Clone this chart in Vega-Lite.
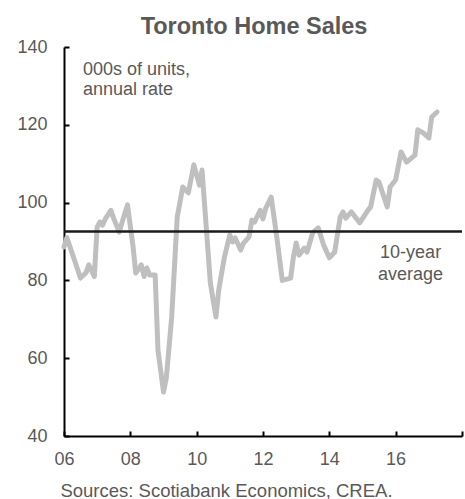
{
  "$schema": "https://vega.github.io/schema/vega-lite/v6.json",
  "width": 398,
  "height": 389,
  "autosize": {"type": "none"},
  "padding": {"left": 64, "top": 47, "right": 3, "bottom": 63},
  "background": "white",
  "config": {"font": "Liberation Sans", "view": {"stroke": null}},
  "title": {"text": "Toronto Home Sales", "fontSize": 23.5, "fontWeight": "bold", "color": "#595959", "anchor": "middle", "dx": -9, "dy": 33, "baseline": "alphabetic", "offset": 14},
  "datasets": {
    "sales": [
      {"date": "2006-01-01", "value": 88.6},
      {"date": "2006-02-01", "value": 91},
      {"date": "2006-04-01", "value": 87},
      {"date": "2006-07-01", "value": 80.6},
      {"date": "2006-09-01", "value": 82},
      {"date": "2006-10-01", "value": 84},
      {"date": "2006-12-01", "value": 81},
      {"date": "2007-01-01", "value": 93.7},
      {"date": "2007-02-01", "value": 95},
      {"date": "2007-03-01", "value": 94.2},
      {"date": "2007-04-01", "value": 95.8},
      {"date": "2007-06-01", "value": 98},
      {"date": "2007-07-01", "value": 96},
      {"date": "2007-09-01", "value": 92.4},
      {"date": "2007-10-01", "value": 94.8},
      {"date": "2007-12-01", "value": 99.4},
      {"date": "2008-02-01", "value": 88.6},
      {"date": "2008-03-01", "value": 81.9},
      {"date": "2008-05-01", "value": 84},
      {"date": "2008-06-01", "value": 81},
      {"date": "2008-07-01", "value": 83.2},
      {"date": "2008-08-01", "value": 81.4},
      {"date": "2008-10-01", "value": 81.4},
      {"date": "2008-11-01", "value": 62},
      {"date": "2009-01-01", "value": 51.3},
      {"date": "2009-02-01", "value": 55},
      {"date": "2009-04-01", "value": 70.6},
      {"date": "2009-06-01", "value": 96.3},
      {"date": "2009-08-01", "value": 104},
      {"date": "2009-10-01", "value": 102.5},
      {"date": "2009-12-01", "value": 109.7},
      {"date": "2010-02-01", "value": 104.5},
      {"date": "2010-03-01", "value": 108.4},
      {"date": "2010-06-01", "value": 79.3},
      {"date": "2010-08-01", "value": 70.6},
      {"date": "2010-09-01", "value": 77.5},
      {"date": "2010-11-01", "value": 85.8},
      {"date": "2011-01-01", "value": 91.7},
      {"date": "2011-02-01", "value": 89.9},
      {"date": "2011-03-01", "value": 90.9},
      {"date": "2011-05-01", "value": 87.8},
      {"date": "2011-06-01", "value": 89.6},
      {"date": "2011-08-01", "value": 91.2},
      {"date": "2011-09-01", "value": 95.5},
      {"date": "2011-10-01", "value": 95},
      {"date": "2011-12-01", "value": 98},
      {"date": "2012-01-01", "value": 95.8},
      {"date": "2012-02-01", "value": 98.6},
      {"date": "2012-04-01", "value": 101.4},
      {"date": "2012-06-01", "value": 91.2},
      {"date": "2012-08-01", "value": 80},
      {"date": "2012-11-01", "value": 80.6},
      {"date": "2012-12-01", "value": 86},
      {"date": "2013-01-01", "value": 89.6},
      {"date": "2013-02-01", "value": 86.5},
      {"date": "2013-04-01", "value": 88.3},
      {"date": "2013-05-01", "value": 87.3},
      {"date": "2013-07-01", "value": 92.2},
      {"date": "2013-09-01", "value": 93.5},
      {"date": "2013-11-01", "value": 89},
      {"date": "2014-01-01", "value": 85.8},
      {"date": "2014-03-01", "value": 87.3},
      {"date": "2014-05-01", "value": 96.3},
      {"date": "2014-06-01", "value": 97.6},
      {"date": "2014-07-01", "value": 96},
      {"date": "2014-09-01", "value": 97.6},
      {"date": "2014-12-01", "value": 94.8},
      {"date": "2015-03-01", "value": 98},
      {"date": "2015-04-01", "value": 98.9},
      {"date": "2015-06-01", "value": 105.8},
      {"date": "2015-07-01", "value": 105.3},
      {"date": "2015-10-01", "value": 98.9},
      {"date": "2015-11-01", "value": 104},
      {"date": "2016-01-01", "value": 105.8},
      {"date": "2016-03-01", "value": 113},
      {"date": "2016-05-01", "value": 110.4},
      {"date": "2016-08-01", "value": 112.2},
      {"date": "2016-09-01", "value": 118.7},
      {"date": "2016-11-01", "value": 117.9},
      {"date": "2017-01-01", "value": 116.6},
      {"date": "2017-02-01", "value": 122},
      {"date": "2017-04-01", "value": 123.3}
    ]
  },
  "layer": [
    {
      "data": {"name": "sales"},
      "mark": {"type": "line", "color": "#BFBFBF", "strokeWidth": 5, "strokeJoin": "round", "strokeCap": "round"},
      "encoding": {
        "x": {
          "field": "date", "type": "temporal",
          "scale": {"type": "utc", "domain": [{"year": 2006, "month": 1, "date": 1, "utc": true}, {"year": 2018, "month": 1, "date": 1, "utc": true}]},
          "axis": {
            "title": "Sources: Scotiabank Economics, CREA.",
            "titleFontSize": 18.5, "titleFontWeight": "normal", "titleColor": "#595959",
            "titleX": 162, "titleY": 60, "titleBaseline": "alphabetic", "titleAlign": "center", "titleAnchor": null,
            "tickCount": {"interval": "year", "step": 2},
            "labelExpr": "utcyear(datum.value) >= 2018 ? '' : utcFormat(datum.value, '%y')",
            "labelFontSize": 18, "labelColor": "#595959", "labelPadding": 19, "labelFlush": false,
            "tickSize": -5, "tickWidth": 2, "tickColor": "black",
            "domainColor": "black", "domainWidth": 2, "grid": false
          }
        },
        "y": {
          "field": "value", "type": "quantitative",
          "scale": {"domain": [40, 140], "nice": false, "zero": false},
          "axis": {
            "title": null, "values": [40, 60, 80, 100, 120, 140],
            "labelFontSize": 18, "labelColor": "#595959", "labelPadding": 22,
            "tickSize": -5, "tickWidth": 2, "tickColor": "black",
            "domainColor": "black", "domainWidth": 2, "grid": false
          }
        }
      }
    },
    {
      "data": {"values": [{"avg": 92.6}]},
      "mark": {"type": "rule", "color": "#1a1a1a", "strokeWidth": 2.5},
      "encoding": {"y": {"field": "avg", "type": "quantitative"}}
    },
    {
      "data": {"values": [{"date": "2006-07-28", "value": 132.8, "label": "000s of units,\nannual rate"}]},
      "mark": {"type": "text", "align": "left", "baseline": "alphabetic", "fontSize": 18, "lineHeight": 20, "lineBreak": "\n", "color": "#595959"},
      "encoding": {
        "x": {"field": "date", "type": "temporal"},
        "y": {"field": "value", "type": "quantitative"},
        "text": {"field": "label"}
      }
    },
    {
      "data": {"values": [{"date": "2016-06-14", "value": 85.8, "label": "10-year\naverage"}]},
      "mark": {"type": "text", "align": "center", "baseline": "alphabetic", "fontSize": 18, "lineHeight": 22, "lineBreak": "\n", "color": "#595959"},
      "encoding": {
        "x": {"field": "date", "type": "temporal"},
        "y": {"field": "value", "type": "quantitative"},
        "text": {"field": "label"}
      }
    }
  ]
}
